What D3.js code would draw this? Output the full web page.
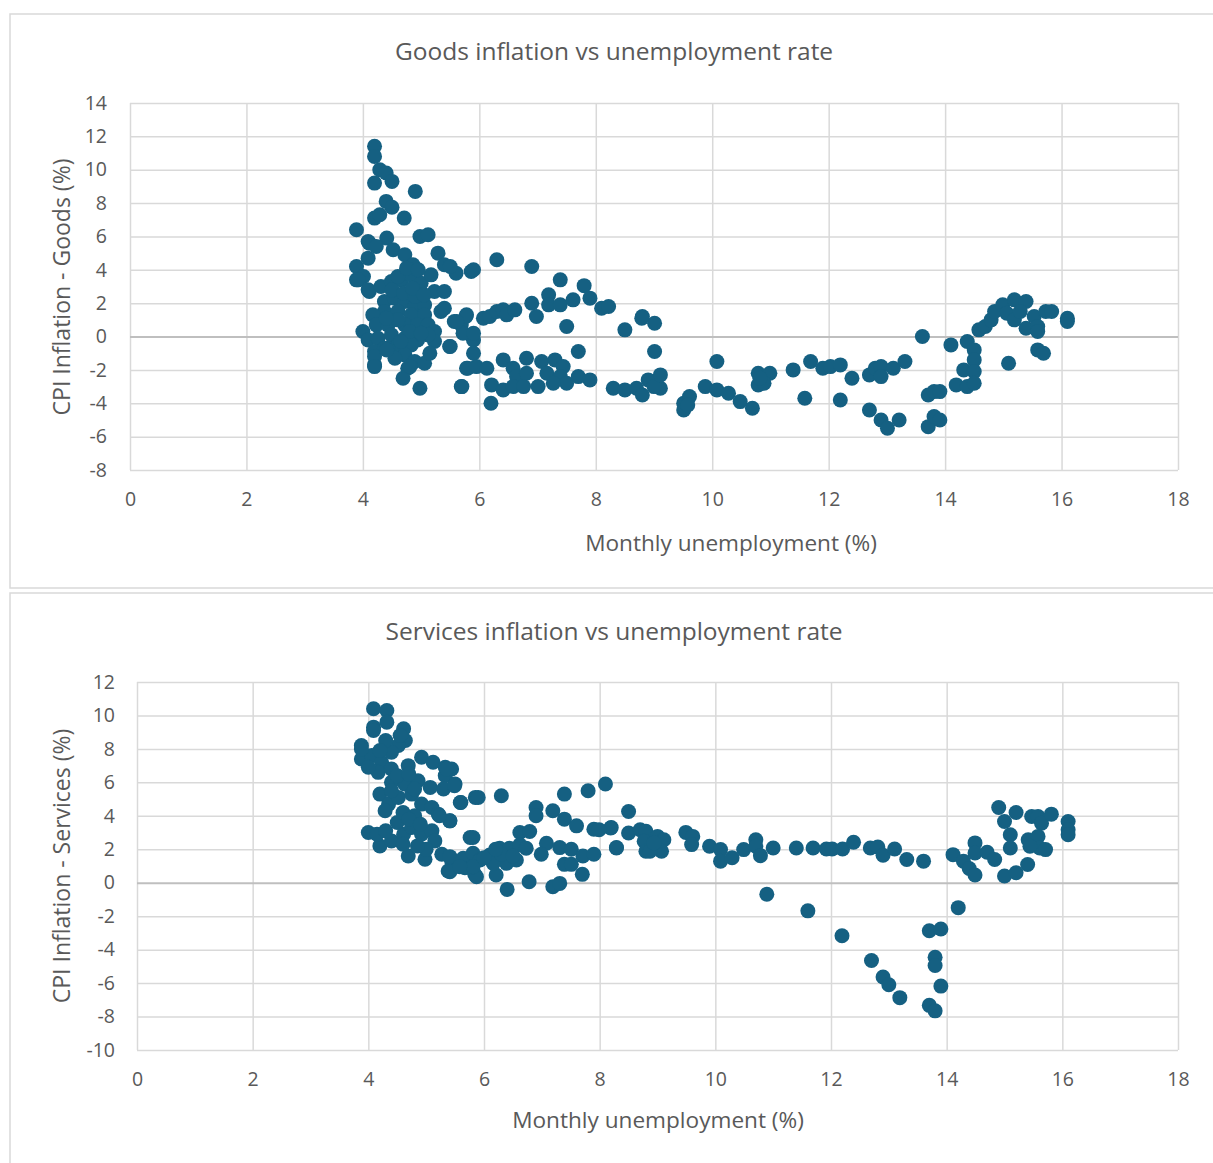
<!DOCTYPE html>
<html>
<head>
<meta charset="utf-8">
<script src="https://cdn.jsdelivr.net/npm/d3@7"></script>
<style>
  body { margin: 0; background: #fff; }
  svg text { font-family: "Open Sans", "Noto Sans", sans-serif; fill: #595959; }
</style>
</head>
<body>
<svg id="chart" width="1213" height="1163"></svg>
<script>
// unemployment (%) vs CPI goods inflation (%)
const goodsPoints = [
  [4.20,11.4],[4.20,10.8],[4.29,10.0],[4.40,9.8],[4.50,9.3],[4.20,9.2],[4.90,8.7],[4.40,8.1],[4.50,7.75],
  [4.20,7.1],[4.29,7.3],[4.71,7.1],[3.89,6.4],[4.98,6.0],[5.12,6.1],[4.11,5.6],[4.41,5.9],[4.09,5.7],
  [4.23,5.4],[4.52,5.2],[4.72,4.9],[4.86,4.3],[5.29,5.0],[5.40,4.3],[5.60,3.8],[5.86,3.9],[5.50,4.2],
  [5.90,4.0],[6.30,4.6],[6.90,4.2],[3.89,4.2],[3.89,3.4],[4.01,3.6],[4.11,2.7],[4.09,4.7],[3.92,3.4],
  [4.09,2.8],[4.31,3.0],[4.49,3.3],[4.66,3.4],[4.83,3.7],[5.00,3.2],[5.17,3.7],[5.23,2.7],[5.40,2.7],
  [4.37,2.1],[4.54,2.3],[4.72,2.1],[4.89,1.8],[5.06,1.9],[4.37,1.5],[4.60,1.5],[4.83,1.3],[5.06,1.3],
  [5.34,1.5],[5.40,1.7],[4.17,1.3],[4.23,0.7],[4.43,0.7],[4.72,0.7],[4.94,0.7],[5.12,0.7],[5.23,0.3],
  [5.23,-0.3],[5.12,0.1],[4.00,0.3],[4.09,-0.2],[4.26,-0.1],[4.49,0.1],[4.72,-0.1],[4.94,-0.2],[4.83,-0.5],
  [4.60,-0.5],[4.43,-0.7],[4.20,-0.9],[4.20,-1.7],[4.37,-0.7],[4.72,-1.1],[4.89,-1.5],[5.06,-1.6],[4.77,-1.9],
  [4.69,-2.5],[4.98,-3.1],[5.49,-0.6],[5.57,0.9],[5.69,0.7],[5.77,1.2],[5.86,0.1],[5.80,-1.9],[5.69,-3.0],
  [4.50,2.8],[4.70,2.6],[4.90,2.4],[4.60,1.0],[4.80,0.3],[5.00,0.2],[4.40,1.1],[4.55,-1.3],[4.65,-0.3],
  [4.85,2.9],[4.60,3.6],[4.75,4.1],[4.95,4.0],[5.05,2.5],[5.15,-1.0],[4.20,-1.2],[4.20,-1.8],[4.41,-0.8],
  [4.81,-1.8],[5.90,-0.2],[5.72,0.2],[5.90,0.2],[5.78,1.3],[5.61,0.9],[6.07,1.1],[6.18,1.2],[6.30,1.5],
  [6.41,1.6],[6.47,1.3],[6.61,1.6],[6.90,2.0],[6.98,1.2],[7.19,2.5],[7.19,1.9],[7.39,1.9],[7.61,2.2],
  [7.39,3.4],[7.80,3.05],[7.90,2.3],[8.10,1.7],[8.22,1.8],[7.50,0.6],[8.50,0.4],[8.80,1.2],[9.01,0.8],
  [8.79,1.1],[5.50,-0.6],[7.70,-0.9],[5.90,-1.0],[5.78,-1.9],[5.95,-1.8],[6.13,-1.9],[6.41,-1.4],[6.58,-1.9],
  [6.81,-1.3],[6.64,-2.4],[6.81,-2.2],[7.07,-1.5],[7.30,-1.4],[7.44,-1.8],[7.16,-2.2],[7.39,-2.4],[7.50,-2.8],
  [7.70,-2.4],[7.90,-2.6],[6.21,-2.9],[6.41,-3.2],[6.58,-3.0],[6.76,-3.0],[7.01,-3.0],[7.27,-2.8],[5.70,-3.0],
  [6.20,-4.0],[8.30,-3.1],[8.50,-3.2],[8.70,-3.1],[8.80,-3.5],[8.90,-2.6],[9.11,-3.1],[9.00,-3.0],[9.01,-0.9],
  [9.11,-2.3],[9.51,-4.0],[9.51,-4.4],[9.61,-3.6],[9.58,-4.1],[9.88,-3.0],[10.08,-3.2],[10.28,-3.4],[10.48,-3.9],
  [10.69,-4.3],[10.08,-1.5],[10.79,-2.2],[10.99,-2.2],[10.79,-2.9],[10.89,-2.8],[10.82,-2.5],[11.39,-2.0],[11.59,-3.7],
  [11.69,-1.5],[11.90,-1.9],[12.03,-1.8],[12.20,-1.7],[12.40,-2.5],[12.20,-3.8],[12.70,-2.3],[12.80,-1.9],[12.90,-1.8],
  [12.90,-2.4],[13.11,-1.9],[13.31,-1.5],[12.70,-4.4],[12.90,-5.0],[13.01,-5.5],[13.21,-5.0],[13.61,0.0],[13.71,-3.5],
  [13.81,-3.3],[13.91,-3.3],[13.71,-5.4],[13.81,-4.8],[13.91,-5.0],[14.10,-0.5],[14.19,-2.9],[14.38,-0.3],[14.50,-0.8],
  [14.50,-1.4],[14.32,-2.0],[14.50,-2.1],[14.38,-3.0],[14.50,-2.8],[14.58,0.4],[14.69,0.6],[14.79,1.0],[14.85,1.5],
  [14.99,1.9],[15.06,1.4],[15.19,2.2],[15.19,1.0],[15.39,2.1],[15.39,0.5],[15.29,1.5],[15.53,1.2],[15.59,0.6],
  [15.59,0.3],[15.73,1.5],[15.83,1.5],[16.10,1.1],[16.10,0.9],[15.09,-1.6],[15.59,-0.8],[15.69,-1.0]
];

// unemployment (%) vs CPI services inflation (%)
const servicesPoints = [
  [4.09,10.4],[4.32,10.3],[4.09,9.3],[4.09,9.1],[4.32,9.6],[4.61,9.2],[4.64,8.5],[4.52,8.2],[3.88,8.2],
  [3.88,7.4],[4.06,7.6],[4.23,7.2],[4.40,7.8],[3.88,8.0],[4.17,6.6],[4.40,6.8],[4.69,7.0],[4.92,7.5],
  [5.12,7.2],[5.33,6.9],[5.44,6.8],[5.33,6.4],[4.40,6.0],[4.63,5.9],[4.86,6.1],[5.07,5.7],[5.30,5.6],
  [5.50,5.9],[5.59,4.8],[5.85,5.1],[4.20,5.3],[4.35,4.7],[4.29,4.3],[4.52,5.1],[4.75,5.3],[4.92,4.7],
  [5.10,4.5],[5.21,4.1],[5.41,3.7],[4.00,3.0],[4.20,2.2],[4.40,2.5],[4.61,2.9],[4.75,3.3],[4.92,2.9],
  [5.10,3.1],[5.15,2.5],[4.69,1.6],[4.98,1.4],[5.27,1.7],[5.44,1.3],[5.67,0.9],[5.38,0.7],[5.76,2.7],
  [5.82,1.3],[5.84,0.5],[4.15,2.9],[4.30,3.1],[4.50,3.6],[4.60,4.2],[4.80,4.0],[4.50,6.4],[4.30,8.5],
  [4.55,8.8],[4.70,6.5],[4.80,5.6],[4.40,5.5],[4.20,7.9],[4.00,6.9],[4.70,3.8],[4.90,3.5],[5.00,2.0],
  [4.85,2.2],[4.60,2.3],[5.35,6.8],[5.49,5.8],[5.60,4.8],[5.90,5.1],[6.30,5.2],[5.41,3.7],[5.23,4.0],
  [5.81,2.7],[7.39,5.3],[7.80,5.5],[8.10,5.9],[6.90,4.5],[6.90,4.0],[7.19,4.3],[7.39,3.8],[7.60,3.4],
  [7.90,3.2],[8.20,3.3],[6.62,3.0],[6.79,3.06],[7.08,2.36],[7.31,2.1],[7.51,2.0],[7.71,1.6],[7.90,1.7],
  [8.29,2.1],[6.99,1.7],[7.39,1.1],[7.51,1.1],[7.70,0.5],[6.78,0.06],[7.19,-0.24],[7.31,-0.04],[6.40,-0.4],
  [5.41,1.56],[5.64,1.46],[5.81,1.76],[5.93,1.36],[6.10,1.66],[6.27,2.06],[6.44,2.06],[6.62,2.26],[6.73,2.06],
  [5.41,0.66],[5.87,0.36],[6.21,0.46],[6.39,1.16],[6.56,1.36],[6.16,1.16],[5.81,0.96],[5.58,0.96],[6.00,1.5],
  [6.30,1.7],[6.50,1.6],[6.20,2.0],[8.50,4.26],[8.19,3.27],[7.99,3.17],[8.29,2.08],[8.50,2.97],[8.70,3.17],
  [8.80,3.07],[8.77,2.48],[8.80,1.88],[9.00,2.77],[9.11,2.57],[9.07,1.88],[8.87,1.88],[8.94,2.38],[9.49,3.01],
  [9.61,2.77],[9.59,2.28],[9.90,2.18],[10.09,1.98],[10.09,1.29],[10.29,1.49],[10.49,1.98],[10.70,2.57],[10.70,2.18],
  [10.78,1.62],[11.00,2.08],[11.40,2.08],[11.69,2.08],[11.92,2.02],[12.02,2.02],[12.20,2.02],[12.39,2.42],[12.68,2.08],
  [12.81,2.14],[12.90,1.64],[13.10,2.02],[13.31,1.39],[13.60,1.29],[14.11,1.68],[14.29,1.29],[14.39,0.85],[14.49,0.46],
  [14.49,2.38],[14.49,1.78],[14.70,1.82],[14.83,1.39],[14.90,4.50],[15.00,3.66],[15.10,2.87],[15.10,2.08],[15.20,4.2],
  [15.00,0.4],[15.20,0.6],[15.40,1.09],[15.41,2.57],[15.47,3.96],[15.58,3.96],[15.64,3.56],[15.81,4.1],[15.58,2.77],
  [15.61,2.08],[15.71,1.98],[15.44,2.18],[16.10,3.66],[16.10,3.17],[16.10,2.87],[10.89,-0.69],[11.60,-1.68],[12.19,-3.17],
  [12.70,-4.65],[12.90,-5.64],[13.00,-6.1],[13.19,-6.87],[13.70,-2.87],[13.90,-2.77],[13.80,-4.46],[13.80,-4.95],[13.90,-6.18],
  [13.70,-7.33],[13.80,-7.66],[14.20,-1.49]
];

const xTicks = [0, 2, 4, 6, 8, 10, 12, 14, 16, 18];
const goodsTicks = [-8, -6, -4, -2, 0, 2, 4, 6, 8, 10, 12, 14];
const servicesTicks = [-10, -8, -6, -4, -2, 0, 2, 4, 6, 8, 10, 12];

const svg = d3.select("#chart");
const dotColor = "#156082";
const gridColor = "#d9d9d9";

function drawChart(cfg) {
  // outer chart frame
  svg.append("rect")
    .attr("x", cfg.box[0]).attr("y", cfg.box[1])
    .attr("width", cfg.box[2]).attr("height", cfg.box[3])
    .attr("fill", "#fff").attr("stroke", gridColor).attr("stroke-width", 1.5);

  const x = d3.scaleLinear().domain([0, 18]).range([cfg.left, cfg.right]);
  const y = d3.scaleLinear().domain(d3.extent(cfg.yTicks)).range([cfg.bottom, cfg.top]);

  // gridlines
  svg.append("g")
    .attr("transform", `translate(0,${cfg.bottom})`)
    .call(d3.axisBottom(x).tickValues(xTicks).tickSize(-(cfg.bottom - cfg.top)).tickFormat(""))
    .call(g => g.select(".domain").remove())
    .call(g => g.selectAll("line").attr("stroke", gridColor).attr("stroke-width", 1.5));

  svg.append("g")
    .attr("transform", `translate(${cfg.left},0)`)
    .call(d3.axisLeft(y).tickValues(cfg.yTicks).tickSize(-(cfg.right - cfg.left)).tickFormat(""))
    .call(g => g.select(".domain").remove())
    .call(g => g.selectAll("line")
      .attr("stroke", d => d === 0 ? "#bfbfbf" : gridColor)
      .attr("stroke-width", d => d === 0 ? 2 : 1.5));

  // tick labels (plain hyphen for negatives, like the original)
  svg.append("g")
    .attr("transform", `translate(0,${cfg.bottom})`)
    .call(d3.axisBottom(x).tickValues(xTicks).tickSize(0).tickPadding(22).tickFormat(d => String(d)))
    .call(g => g.select(".domain").remove())
    .call(g => g.selectAll("text").attr("font-size", 19.5).attr("fill", "#595959")
      .style("font-family", "'Open Sans', sans-serif"));

  svg.append("g")
    .attr("transform", `translate(${cfg.left},0)`)
    .call(d3.axisLeft(y).tickValues(cfg.yTicks).tickSize(0).tickPadding(cfg.yPad).tickFormat(d => String(d)))
    .call(g => g.select(".domain").remove())
    .call(g => g.selectAll("text").attr("font-size", 19.5).attr("fill", "#595959")
      .style("font-family", "'Open Sans', sans-serif"));

  // points
  svg.append("g").selectAll("circle")
    .data(cfg.data)
    .enter().append("circle")
      .attr("cx", d => x(d[0]))
      .attr("cy", d => y(d[1]))
      .attr("r", 7.5)
      .attr("fill", dotColor);

  // titles
  svg.append("text")
    .attr("x", 614).attr("y", cfg.titleY)
    .attr("text-anchor", "middle").attr("font-size", 24.5)
    .text(cfg.title);

  svg.append("text")
    .attr("x", cfg.xTitleX).attr("y", cfg.xTitleY)
    .attr("text-anchor", "middle").attr("font-size", 22.6)
    .text("Monthly unemployment (%)");

  svg.append("text")
    .attr("transform", `translate(62,${cfg.yTitleY}) rotate(-90)`)
    .attr("text-anchor", "middle").attr("dy", "0.35em").attr("font-size", 23)
    .text(cfg.yTitle);
}

drawChart({
  box: [10, 14, 1215, 574],
  left: 130, right: 1178, top: 103, bottom: 470,
  yTicks: goodsTicks, yPad: 23,
  data: goodsPoints,
  title: "Goods inflation vs unemployment rate", titleY: 60,
  xTitleX: 731, xTitleY: 551,
  yTitle: "CPI Inflation - Goods (%)", yTitleY: 287
});

drawChart({
  box: [10, 593, 1215, 600],
  left: 137, right: 1178, top: 682, bottom: 1050,
  yTicks: servicesTicks, yPad: 22,
  data: servicesPoints,
  title: "Services inflation vs unemployment rate", titleY: 640,
  xTitleX: 658, xTitleY: 1128,
  yTitle: "CPI Inflation - Services (%)", yTitleY: 866
});
</script>
</body>
</html>
